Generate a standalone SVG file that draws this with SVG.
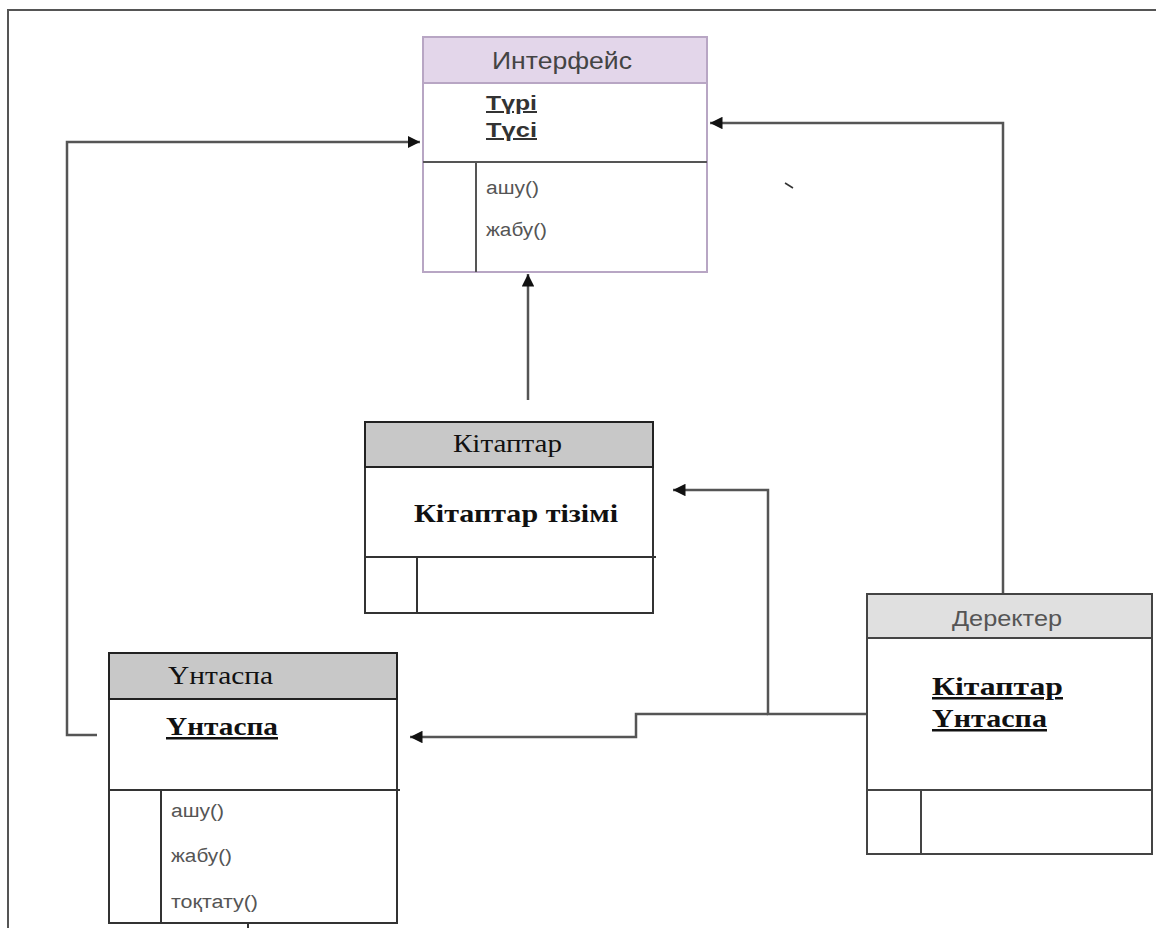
<svg xmlns="http://www.w3.org/2000/svg" width="1156" height="928" viewBox="0 0 1156 928">
<style>
.box{fill:#fff;stroke:#333;stroke-width:2}
.ln{stroke:#333;stroke-width:2;fill:none}
.con{stroke:#555;stroke-width:2.5;fill:none}
.sans{font-family:"Liberation Sans",Arial,sans-serif}
.serif{font-family:"Liberation Serif","Times New Roman",serif}
.op{font-family:"Liberation Sans",Arial,sans-serif;font-size:18px;fill:#555}
.battr{font-family:"Liberation Serif","Times New Roman",serif;font-size:25px;font-weight:bold;fill:#111;text-decoration:underline}
</style>
<defs>
<marker id="ah" viewBox="0 0 10 10" refX="10" refY="5" markerWidth="5" markerHeight="5" orient="auto" markerUnits="strokeWidth">
<path d="M0,0 L10,5 L0,10 z" fill="#111"/>
</marker>
</defs>
<rect width="1156" height="928" fill="#fff"/>
<path d="M8,928 V10 H1156" stroke="#555" stroke-width="2" fill="none"/>

<g id="connectors">
<path class="con" d="M97,735 H67 V142 H420" marker-end="url(#ah)"/>
<path class="con" d="M528,400 V274" marker-end="url(#ah)"/>
<path class="con" d="M1003,594 V123 H710" marker-end="url(#ah)"/>
<path class="con" d="M867,714 H768 V490 H673" marker-end="url(#ah)"/>
<path class="con" d="M768,714 H636 V737 H410" marker-end="url(#ah)"/>
<path d="M248,923 V928" stroke="#333" stroke-width="2"/>
<path d="M785,183 L793,188" stroke="#333" stroke-width="1.5"/>
</g>

<g id="interface">
<rect x="423" y="37" width="284" height="235" fill="#fff" stroke="#b8a6c4" stroke-width="2"/>
<rect x="423" y="37" width="284" height="46" fill="#e3d6ea" stroke="#b8a6c4" stroke-width="2"/>
<line x1="423" y1="162" x2="707" y2="162" stroke="#555" stroke-width="2"/>
<line x1="476" y1="162" x2="476" y2="272" stroke="#555" stroke-width="2"/>
<text x="492" y="69" class="sans" font-size="24" fill="#444" textLength="140" lengthAdjust="spacingAndGlyphs">Интерфейс</text>
<text x="486" y="110" class="sans" font-size="20" font-weight="bold" fill="#333" text-decoration="underline" textLength="51" lengthAdjust="spacingAndGlyphs">Түрі</text>
<text x="486" y="137" class="sans" font-size="20" font-weight="bold" fill="#333" text-decoration="underline" textLength="51" lengthAdjust="spacingAndGlyphs">Түсі</text>
<text x="486" y="194" class="op" textLength="53" lengthAdjust="spacingAndGlyphs">ашу()</text>
<text x="486" y="236" class="op" textLength="61" lengthAdjust="spacingAndGlyphs">жабу()</text>
</g>

<g id="kitaptar">
<rect class="box" x="365" y="422" width="288" height="191"/>
<rect x="365" y="422" width="288" height="45" fill="#c8c8c8" stroke="#222" stroke-width="2"/>
<line class="ln" x1="365" y1="557" x2="656" y2="557"/>
<line class="ln" x1="417" y1="557" x2="417" y2="613"/>
<text x="453" y="452" class="serif" font-size="25" fill="#111" textLength="109" lengthAdjust="spacingAndGlyphs">Кітаптар</text>
<text x="414" y="522" class="serif" font-size="26" font-weight="bold" fill="#111" textLength="204" lengthAdjust="spacingAndGlyphs">Кітаптар тізімі</text>
</g>

<g id="untaspa">
<rect class="box" x="109" y="653" width="288" height="270"/>
<rect x="109" y="653" width="288" height="46" fill="#c8c8c8" stroke="#222" stroke-width="2"/>
<line class="ln" x1="109" y1="790" x2="400" y2="790"/>
<line class="ln" x1="161" y1="790" x2="161" y2="923"/>
<text x="168" y="684" class="serif" font-size="25" fill="#111" textLength="105" lengthAdjust="spacingAndGlyphs">Үнтаспа</text>
<text x="166" y="735" class="battr" textLength="112" lengthAdjust="spacingAndGlyphs">Үнтаспа</text>
<text x="171" y="817" class="op" textLength="53" lengthAdjust="spacingAndGlyphs">ашу()</text>
<text x="171" y="862" class="op" textLength="61" lengthAdjust="spacingAndGlyphs">жабу()</text>
<text x="171" y="908" class="op" textLength="87" lengthAdjust="spacingAndGlyphs">тоқтату()</text>
</g>

<g id="derekter">
<rect x="867" y="594" width="285" height="260" fill="#fff" stroke="#444" stroke-width="2"/>
<rect x="867" y="594" width="285" height="44" fill="#e0e0e0" stroke="#444" stroke-width="2"/>
<line x1="867" y1="790" x2="1152" y2="790" stroke="#444" stroke-width="2"/>
<line x1="921" y1="790" x2="921" y2="854" stroke="#444" stroke-width="2"/>
<text x="952" y="626" class="sans" font-size="22" fill="#555" textLength="110" lengthAdjust="spacingAndGlyphs">Деректер</text>
<text x="932" y="695" class="battr" textLength="131" lengthAdjust="spacingAndGlyphs">Кітаптар </text>
<text x="932" y="727" class="battr" textLength="115" lengthAdjust="spacingAndGlyphs">Үнтаспа</text>
</g>
</svg>
